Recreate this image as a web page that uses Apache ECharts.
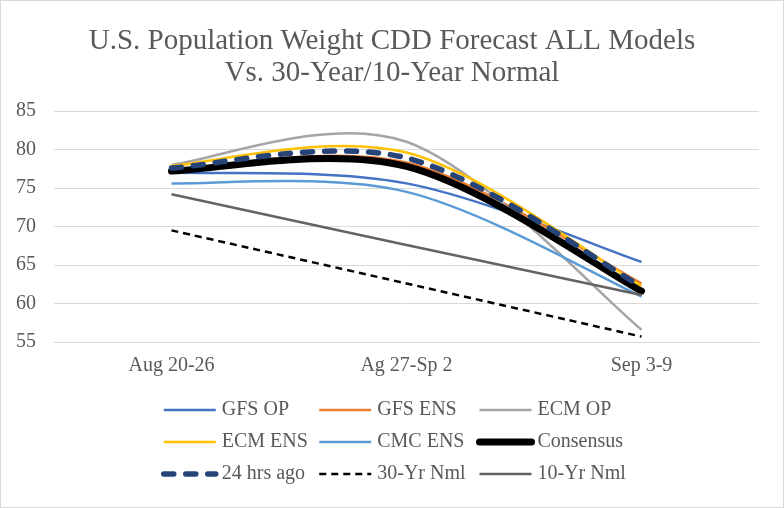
<!DOCTYPE html>
<html>
<head>
<meta charset="utf-8">
<script src="https://cdn.jsdelivr.net/npm/echarts@6/dist/echarts.min.js"></script>
<style>
  html, body { margin: 0; padding: 0; background: #fff; }
  #chart { width: 784px; height: 508px; box-sizing: border-box; border: 1px solid #d9d9d9; }
</style>
</head>
<body>
<div id="chart"></div>
<script>
// weeks on the x axis
const weeks = ['Aug 20-26', 'Ag 27-Sp 2', 'Sep 3-9'];
// forecasts (CDD)
const gfsOp = [77.0, 75.6, 65.4];
const gfsEns = [77.3, 78.3, 62.6];
const ecmOp = [78.0, 81.0, 56.6];
const ecmEns = [77.9, 79.6, 62.3];
const cmcEns = [75.6, 74.5, 60.9];
const consensus = [77.2, 77.8, 61.6];
const hrs24Ago = [77.6, 78.9, 62.2];
const nml30 = [69.5, 62.6, 55.7];
const nml10 = [74.2, 67.6, 61.1];

const font = '"Liberation Serif", "Times New Roman", serif';
const grey = '#595959';

// name, data, colour, width, dash, cap
const lines = [
  ['GFS OP', gfsOp, '#4472C4', 2.5, 'solid', 'butt'],
  ['GFS ENS', gfsEns, '#ED7D31', 2.5, 'solid', 'butt'],
  ['ECM OP', ecmOp, '#A5A5A5', 2.5, 'solid', 'butt'],
  ['ECM ENS', ecmEns, '#FFC000', 2.5, 'solid', 'butt'],
  ['CMC ENS', cmcEns, '#5B9BD5', 2.5, 'solid', 'butt'],
  ['Consensus', consensus, '#000000', 7, 'solid', 'round'],
  ['24 hrs ago', hrs24Ago, '#264478', 5.5, [10, 12], 'round'],
  ['30-Yr Nml', nml30, '#000000', 2.5, [7, 5], 'butt'],
  ['10-Yr Nml', nml10, '#636363', 2.5, 'solid', 'butt']
];

// excel-like smoothed line (catmull-rom through the points)
function smoothSeries(l) {
  const vals = l[1];
  return {
    name: l[0] + ' ',
    type: 'custom',
    coordinateSystem: 'cartesian2d',
    data: vals.map((v, i) => [i, v]),
    encode: { x: 0, y: 1 },
    silent: true,
    renderItem: function (params, api) {
      if (params.dataIndex !== 0) return null;
      const p = vals.map((v, i) => api.coord([i, v]));
      let d = 'M' + p[0][0] + ',' + p[0][1];
      for (let i = 0; i < p.length - 1; i++) {
        const p0 = p[i - 1] || p[i], p1 = p[i], p2 = p[i + 1], p3 = p[i + 2] || p[i + 1];
        const c1 = [p1[0] + (p2[0] - p0[0]) / 6, p1[1] + (p2[1] - p0[1]) / 6];
        const c2 = [p2[0] - (p3[0] - p1[0]) / 6, p2[1] - (p3[1] - p1[1]) / 6];
        d += ' C' + c1[0] + ',' + c1[1] + ' ' + c2[0] + ',' + c2[1] + ' ' + p2[0] + ',' + p2[1];
      }
      return {
        type: 'path',
        shape: { pathData: d },
        style: {
          fill: 'none',
          stroke: l[2],
          lineWidth: l[3],
          lineDash: l[4] === 'solid' ? null : l[4],
          lineCap: l[5],
          lineJoin: 'round'
        }
      };
    }
  };
}

// empty line series, only used for the legend icons
function legendSeries(l) {
  return {
    name: l[0],
    type: 'line',
    data: [],
    symbol: 'none',
    lineStyle: { color: l[2], width: l[3], type: l[4], cap: l[5] },
    itemStyle: { color: l[2] }
  };
}

function legendCol(left, names) {
  return {
    orient: 'vertical',
    left: left,
    top: 394,
    itemWidth: 52,
    itemHeight: 20,
    itemGap: 12,
    data: names,
    itemStyle: { opacity: 0 },
    lineStyle: { width: 'inherit', type: 'inherit', cap: 'inherit' },
    textStyle: { fontFamily: font, fontSize: 20, color: grey, padding: [0, 0, 0, 1] }
  };
}

const chart = echarts.init(document.getElementById('chart'));
chart.setOption({
  animation: false,
  title: {
    text: 'U.S. Population Weight CDD Forecast ALL Models\nVs. 30-Year/10-Year Normal',
    left: 'center',
    top: 19,
    textStyle: { fontFamily: font, fontSize: 29, fontWeight: 'normal', color: grey, lineHeight: 32 }
  },
  legend: [
    legendCol(155, ['GFS OP', 'ECM ENS', '24 hrs ago']),
    legendCol(312, ['GFS ENS', 'CMC ENS', '30-Yr Nml']),
    legendCol(470, ['ECM OP', 'Consensus', '10-Yr Nml'])
  ],
  grid: { left: 53, right: 24, top: 110, bottom: 165 },
  xAxis: {
    type: 'category',
    data: weeks,
    axisLine: { lineStyle: { color: '#d9d9d9' } },
    axisTick: { show: false },
    axisLabel: { fontFamily: font, fontSize: 20, color: grey, margin: 14 }
  },
  yAxis: {
    type: 'value',
    min: 55,
    max: 85,
    interval: 5,
    axisLine: { show: false },
    axisTick: { show: false },
    axisLabel: { fontFamily: font, fontSize: 20, color: grey, margin: 18 },
    splitLine: { lineStyle: { color: '#d9d9d9', width: 1 } }
  },
  series: lines.map(legendSeries).concat(lines.map(smoothSeries))
});
</script>
</body>
</html>
